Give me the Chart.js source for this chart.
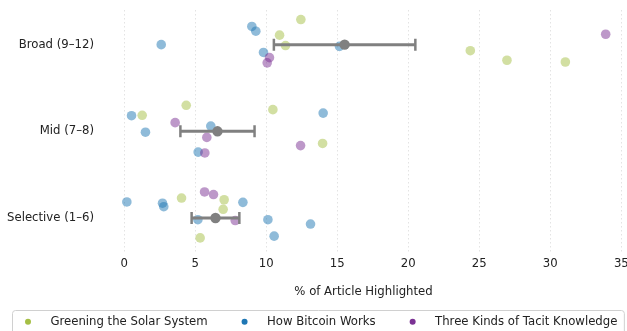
<!DOCTYPE html>
<html>
<head>
<meta charset="utf-8">
<script src="https://cdn.jsdelivr.net/npm/chart.js@4/dist/chart.umd.min.js"></script>
<style>
  html, body { margin: 0; padding: 0; background: #ffffff; }
  #wrap { width: 627px; height: 331px; position: relative; }
</style>
</head>
<body>
<div id="wrap"><canvas id="c" width="627" height="331"></canvas></div>
<script>
// ---- Data ----
const categories = ['Broad (9–12)', 'Mid (7–8)', 'Selective (1–6)']; // top to bottom
const seriesNames = ['Greening the Solar System', 'How Bitcoin Works', 'Three Kinds of Tacit Knowledge'];
const seriesColors = ['#a5bf45', '#1f77b4', '#7b3294'];

// values per category (Broad, Mid, Selective) and vertical jitter of each dot
const greeningValues = [[12.44, 10.94, 11.36, 24.37, 26.95, 31.06], [1.27, 4.37, 10.47, 13.97], [4.04, 7.04, 6.97, 5.35]];
const greeningJitter = [[0.29, 0.11, -0.01, -0.07, -0.18, -0.20], [0.185, 0.30, 0.25, -0.14], [0.23, 0.21, 0.10, -0.23]];

const bitcoinValues = [[8.99, 9.27, 2.61, 9.81, 15.16], [0.52, 1.50, 6.10, 5.21, 14.01], [0.19, 2.70, 2.79, 8.36, 5.19, 10.12, 13.12, 10.56]];
const bitcoinJitter = [[0.21, 0.155, 0.0, -0.09, -0.02], [0.18, -0.01, 0.06, -0.24, 0.21], [0.185, 0.17, 0.13, 0.18, -0.02, -0.02, -0.07, -0.21]];

const tacitValues = [[10.23, 10.07, 33.90], [3.59, 5.82, 5.68, 12.42], [5.66, 6.29, 7.82]];
const tacitJitter = [[-0.15, -0.21, 0.12], [0.10, -0.07, -0.25, -0.165], [0.30, 0.27, -0.03]];

// group means and error bar half-widths
const meanValues = [15.52, 6.57, 6.43];
const errorValues = [4.98, 2.61, 1.68];

const xTickStep = 5;

// ---- Build datasets ----
const FONT = '"DejaVu Sans", sans-serif';
const FS = 11.7;
function catPos(i) { return categories.length - 1 - i; }

function pointsFor(values, jitter) {
  const pts = [];
  values.forEach((arr, ci) => {
    arr.forEach((v, k) => pts.push({ x: v, y: catPos(ci) + jitter[ci][k] }));
  });
  return pts;
}

function alpha(hex, a) {
  const n = parseInt(hex.slice(1), 16);
  return `rgba(${(n >> 16) & 255},${(n >> 8) & 255},${n & 255},${a})`;
}

const seriesData = [
  pointsFor(greeningValues, greeningJitter),
  pointsFor(bitcoinValues, bitcoinJitter),
  pointsFor(tacitValues, tacitJitter)
];

const datasets = [];
seriesData.forEach((pts, i) => {
  datasets.push({
    type: 'scatter',
    label: seriesNames[i],
    data: pts,
    backgroundColor: alpha(seriesColors[i], 0.5),
    borderWidth: 0,
    pointRadius: 4.8,
    order: 3 - i
  });
});

const errColor = '#808080';
categories.forEach((c, ci) => {
  datasets.push({
    type: 'line',
    label: 'err-' + c,
    data: [
      { x: meanValues[ci] - errorValues[ci], y: catPos(ci) },
      { x: meanValues[ci] + errorValues[ci], y: catPos(ci) }
    ],
    borderColor: errColor,
    borderWidth: 3,
    pointStyle: 'line',
    pointRotation: 90,
    pointRadius: 6,
    pointBorderWidth: 2.5,
    pointBorderColor: errColor,
    fill: false,
    order: -1
  });
});
datasets.push({
  type: 'scatter',
  label: 'mean',
  data: meanValues.map((m, ci) => ({ x: m, y: catPos(ci) })),
  backgroundColor: errColor,
  borderWidth: 0,
  pointRadius: 5.2,
  order: -2
});

// ---- Boxed legend drawn at the bottom ----
const boxLegend = {
  id: 'boxLegend',
  afterDraw(chart) {
    const ctx = chart.ctx;
    ctx.save();
    ctx.font = FS + 'px ' + FONT;
    const widths = seriesNames.map(t => ctx.measureText(t).width);
    const lead = 16, gap = 22.4, between = 37, tail = 6.5;
    let total = lead + tail;
    widths.forEach((w, i) => { total += gap + w + (i < widths.length - 1 ? between : 0); });
    const left = Math.round(chart.width / 2 + 4.5 - total / 2);
    const h = 23.5;
    const top = 310;
    ctx.beginPath();
    ctx.roundRect(left + 0.5, top + 0.5, total, h, 3);
    ctx.fillStyle = 'rgba(255,255,255,0.8)';
    ctx.fill();
    ctx.strokeStyle = '#d0d0d0';
    ctx.lineWidth = 1;
    ctx.stroke();
    let x = left + lead;
    const cy = top + 11.7;
    seriesNames.forEach((t, i) => {
      ctx.beginPath();
      ctx.arc(x, cy, 3, 0, Math.PI * 2);
      ctx.fillStyle = seriesColors[i];
      ctx.fill();
      ctx.fillStyle = '#222222';
      ctx.textBaseline = 'middle';
      ctx.textAlign = 'left';
      ctx.fillText(t, x + gap, cy);
      x += gap + widths[i] + between;
    });
    ctx.restore();
  }
};

new Chart(document.getElementById('c'), {
  type: 'scatter',
  data: { datasets },
  options: {
    responsive: false,
    animation: false,
    events: [],
    layout: { autoPadding: false, padding: { left: 0, right: 0, top: 10, bottom: 28.3 } },
    plugins: {
      legend: { display: false },
      tooltip: { enabled: false }
    },
    scales: {
      x: {
        type: 'linear',
        min: -1.7,
        max: 35.4,
        afterFit: (s) => { s.paddingLeft = 0; s.paddingRight = 0; },
        ticks: {
          stepSize: xTickStep,
          includeBounds: false,
          padding: 4,
          color: '#222222',
          font: { family: FONT, size: FS }
        },
        grid: { color: '#dcdcdc', lineWidth: 0.8, drawTicks: false },
        border: { display: false, dash: [1.5, 2.5] },
        title: {
          display: true,
          text: '% of Article Highlighted',
          color: '#222222',
          padding: { top: 10, bottom: 4 },
          font: { family: FONT, size: FS }
        }
      },
      y: {
        type: 'linear',
        min: -0.4,
        max: 2.4,
        afterFit: (s) => { s.width = 100; s.paddingTop = 0; s.paddingBottom = 0; },
        ticks: {
          stepSize: 1,
          includeBounds: false,
          padding: 6,
          color: '#222222',
          font: { family: FONT, size: FS },
          callback: (v) => {
            const idx = categories.length - 1 - Math.round(v);
            return Math.abs(v - Math.round(v)) < 1e-6 ? categories[idx] : '';
          }
        },
        grid: { display: false, drawTicks: false },
        border: { display: false }
      }
    }
  },
  plugins: [boxLegend]
});
</script>
</body>
</html>
